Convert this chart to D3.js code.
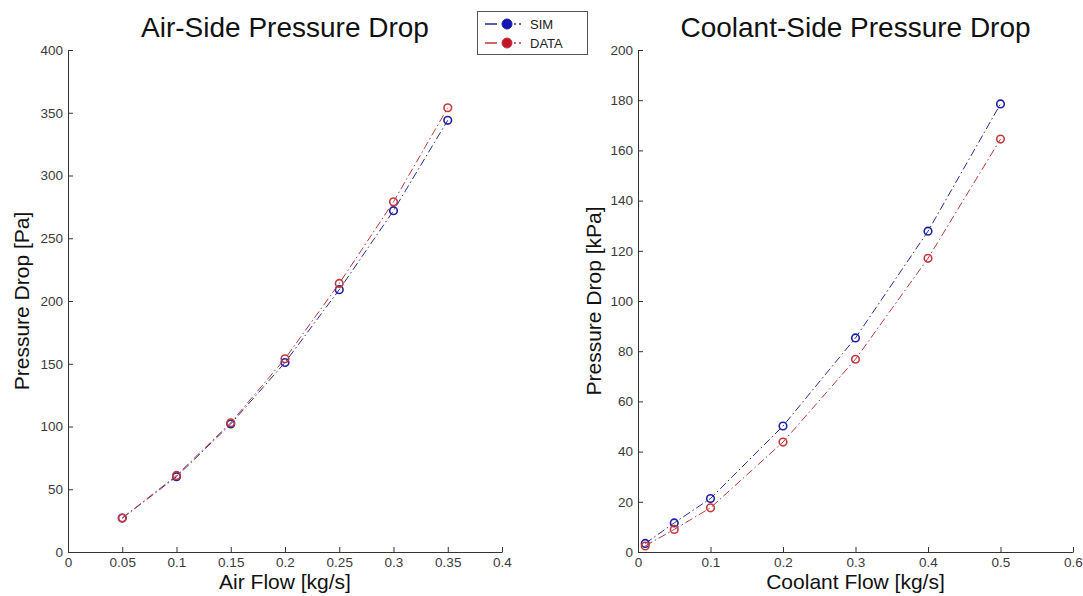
<!DOCTYPE html>
<html><head><meta charset="utf-8">
<script src="https://cdn.jsdelivr.net/npm/d3@7"></script>
<style>
html,body{margin:0;padding:0;background:#fff;}
svg{display:block;font-family:"Liberation Sans",Arial,sans-serif;}
</style></head>
<body>
<svg id="chart" width="1083" height="596"></svg>
<script>
// ---- data ----
const airFlow = [0.05, 0.10, 0.15, 0.20, 0.25, 0.30, 0.35];
const airSim  = [27, 60, 102, 151, 209, 272, 344];
const airData = [27, 61, 103, 154, 214, 279, 354];

const coolFlow = [0.01, 0.05, 0.10, 0.20, 0.30, 0.40, 0.50];
const coolSim  = [3.4, 11.6, 21.3, 50.2, 85.3, 127.8, 178.5];
const coolData = [2.4, 9.0, 17.6, 43.8, 76.8, 117.0, 164.5];

const leftXTicks  = [0, 0.05, 0.1, 0.15, 0.2, 0.25, 0.3, 0.35, 0.4];
const leftYTicks  = [0, 50, 100, 150, 200, 250, 300, 350, 400];
const rightXTicks = [0, 0.1, 0.2, 0.3, 0.4, 0.5, 0.6];
const rightYTicks = [0, 20, 40, 60, 80, 100, 120, 140, 160, 180, 200];

const seriesNames = ["SIM", "DATA"];
const lineColors   = ["#2a2a9a", "#b8383a"];
const markerColors = ["#1f1fa6", "#c43a3c"];
const legendFill   = ["#1414b4", "#c0142a"];

const titles = ["Air-Side Pressure Drop", "Coolant-Side Pressure Drop"];
const xTitles = ["Air Flow [kg/s]", "Coolant Flow [kg/s]"];
const yTitles = ["Pressure Drop [Pa]", "Pressure Drop [kPa]"];

// ---- drawing ----
const svg = d3.select("#chart");
const plotTop = 50, plotBottom = 552;

const panels = [
  {x: d3.scaleLinear([0, 0.4], [68, 502]), y: d3.scaleLinear([0, 400], [plotBottom, plotTop]),
   xt: leftXTicks, yt: leftYTicks, xs: airFlow, series: [airSim, airData], title: titles[0],
   xTitle: xTitles[0], yTitle: yTitles[0], yTitleX: 29},
  {x: d3.scaleLinear([0, 0.6], [638, 1073]), y: d3.scaleLinear([0, 200], [plotBottom, plotTop]),
   xt: rightXTicks, yt: rightYTicks, xs: coolFlow, series: [coolSim, coolData], title: titles[1],
   xTitle: xTitles[1], yTitle: yTitles[1], yTitleX: 601}
];

const fmt = d3.format("~g");

panels.forEach(p => {
  const g = svg.append("g");
  const xa = g.append("g").attr("transform", `translate(0,${plotBottom})`)
    .call(d3.axisBottom(p.x).tickValues(p.xt).tickFormat(fmt)
      .tickSizeInner(-5).tickSizeOuter(0).tickPadding(5));
  const ya = g.append("g").attr("transform", `translate(${p.x.range()[0]},0)`)
    .call(d3.axisLeft(p.y).tickValues(p.yt).tickFormat(fmt)
      .tickSizeInner(-5).tickSizeOuter(0).tickPadding(5));
  [xa, ya].forEach(a => {
    a.select(".domain").attr("stroke", "#333").attr("stroke-width", 1);
    a.selectAll(".tick line").attr("stroke", "#333");
    a.selectAll(".tick text").attr("fill", "#3a3a3a")
      .style("font-size", "13.5px").style("font-family", "'Liberation Sans', Arial, sans-serif");
  });

  const cx = (p.x.range()[0] + p.x.range()[1]) / 2;
  g.append("text").attr("x", cx).attr("y", 37).attr("text-anchor", "middle")
    .attr("fill", "#111").style("font-size", "28px").text(p.title);
  g.append("text").attr("x", cx).attr("y", 589).attr("text-anchor", "middle")
    .attr("fill", "#111").style("font-size", "21px").text(p.xTitle);
  g.append("text").attr("transform", `translate(${p.yTitleX},${(plotTop + plotBottom) / 2}) rotate(-90)`)
    .attr("text-anchor", "middle").attr("fill", "#111").style("font-size", "21px").text(p.yTitle);

  p.series.forEach((vals, si) => {
    const pts = p.xs.map((xv, i) => [p.x(xv), p.y(vals[i])]);
    g.append("path").attr("d", d3.line()(pts)).attr("fill", "none")
      .attr("stroke", lineColors[si]).attr("stroke-width", 1)
      .attr("stroke-dasharray", "8,3,1.5,3");
    g.selectAll(null).data(pts).enter().append("circle")
      .attr("cx", d => d[0]).attr("cy", d => d[1]).attr("r", 3.8)
      .attr("fill", "none").attr("stroke", markerColors[si]).attr("stroke-width", 1.6);
  });
});

// legend
const lg = svg.append("g");
lg.append("rect").attr("x", 477.5).attr("y", 11.5).attr("width", 110).attr("height", 43)
  .attr("fill", "#fff").attr("stroke", "#555").attr("stroke-width", 1);
const rowY = [24, 43];
seriesNames.forEach((name, i) => {
  lg.append("line").attr("x1", 485).attr("x2", 528).attr("y1", rowY[i]).attr("y2", rowY[i])
    .attr("stroke", lineColors[i]).attr("stroke-width", 1.5).attr("stroke-dasharray", "12,17,2,3,2,30");
  lg.append("circle").attr("cx", 507).attr("cy", rowY[i]).attr("r", 5)
    .attr("fill", legendFill[i]).attr("stroke", markerColors[i]).attr("stroke-width", 1);
  lg.append("text").attr("x", 530).attr("y", rowY[i] + 4.5).attr("fill", "#222")
    .style("font-size", "13px").text(name);
});
</script>
</body></html>
